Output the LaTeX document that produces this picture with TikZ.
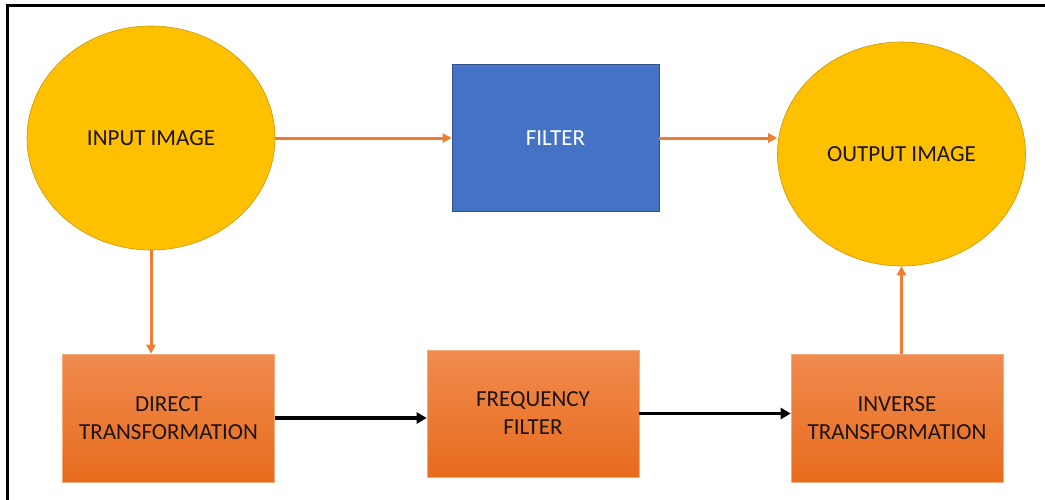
\documentclass[tikz,border=0pt]{standalone}
\usepackage{fontspec}
\setmainfont{Carlito}
\usetikzlibrary{shapes.geometric,arrows.meta}
\definecolor{ell}{HTML}{FFC000}
\definecolor{ellb}{HTML}{C9980A}
\definecolor{blu}{HTML}{4472C4}
\definecolor{blub}{HTML}{2F528F}
\definecolor{orT}{HTML}{F08B4F}
\definecolor{orB}{HTML}{E76B1C}
\definecolor{orb}{HTML}{F4AC7C}
\definecolor{arr}{HTML}{ED7D31}
\definecolor{txt}{HTML}{1C1410}
\tikzset{
  lbl/.style={font=\fontsize{23}{28}\selectfont, text=txt, align=center, inner sep=0pt},
  circ/.style={lbl, ellipse, fill=ell, draw=ellb, line width=0.6pt, minimum width=248pt, minimum height=224pt},
  bluebox/.style={lbl, rectangle, fill=blu, draw=blub, line width=0.6pt, text=white, minimum width=207pt, minimum height=147pt},
  orbox/.style={lbl, rectangle, top color=orT, bottom color=orB, draw=orb, line width=0.6pt, minimum width=212pt, minimum height=128pt},
  oarrow/.style={draw=arr, line width=3pt, -{Triangle[length=9pt,width=9pt]}},
  karrow/.style={draw=black, line width=3.8pt, -{Triangle[length=10pt,width=11pt]}}
}
\begin{document}
\begin{tikzpicture}[x=1pt,y=-1pt]
\useasboundingbox (0,0) rectangle (1045,499);
\fill[white] (0,0) rectangle (1045,499);
\draw[line width=3pt, line cap=rect] (7,499) -- (7,5) -- (1045,5);
\node[circ] (in) at (151,138) {INPUT IMAGE};
\node[bluebox] (filter) at (555.5,138) {FILTER};
\node[circ] (out) at (901.5,154) {OUTPUT IMAGE};
\node[orbox] (direct) at (168.5,418) {DIRECT\\TRANSFORMATION};
\node[orbox, minimum height=127pt] (freq) at (533,413.5) {FREQUENCY\\FILTER};
\node[orbox] (inv) at (897,418) {INVERSE\\TRANSFORMATION};
\draw[oarrow] (in.east) -- (filter.west);
\draw[oarrow] (filter.east) -- (filter.east -| out.west);
\draw[oarrow] (in.south) -- (in.south |- direct.north);
\draw[oarrow] (out.south |- inv.north) -- (out.south);
\draw[karrow] (direct.east) -- (direct.east -| freq.west);
\draw[karrow] (freq.east) -- (freq.east -| inv.west);
\end{tikzpicture}
\end{document}
